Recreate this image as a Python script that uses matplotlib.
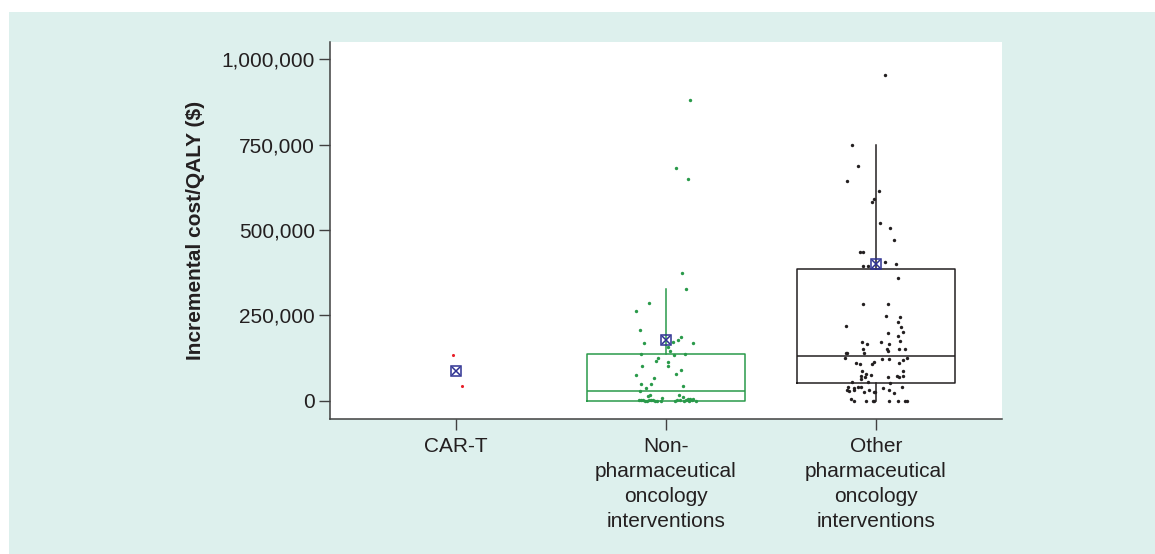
import matplotlib.pyplot as plt
from matplotlib.patches import Rectangle

# categories and positions
categories = ["CAR-T", "Non-\npharmaceutical\noncology\ninterventions",
              "Other\npharmaceutical\noncology\ninterventions"]
yticks = [0, 250000, 500000, 750000, 1000000]
ytick_labels = ["0", "250,000", "500,000", "750,000", "1,000,000"]

# CAR-T points (jitter offset, ICER)
cart_dx = [-0.013, 0.030]
cart_y = [134000, 42000]
cart_mean = 88000

# Non-pharmaceutical points
nonpharm_dx = [0.114, 0.048, 0.105, 0.076, 0.094, -0.082, -0.143, -0.122, -0.105, 0.073,
               0.059, 0.033, 0.129, 0.020, 0.011, -0.120, 0.089, 0.038, -0.038, -0.049,
               0.008, 0.008, -0.113, 0.073, 0.049, -0.144, -0.059, -0.119, -0.070, 0.081,
               -0.095, -0.125, 0.063, 0.081, -0.087, -0.078, -0.020, 0.103, 0.127, 0.114,
               -0.129, -0.119, -0.110, -0.100, -0.090, -0.081, -0.071, -0.062, -0.052, -0.043,
               -0.024, 0.043, 0.067, 0.086, 0.095, 0.110, 0.124, 0.143, 0.052]
nonpharm_y = [881000, 681000, 649000, 373000, 328000, 287000, 264000, 208000, 170000, 187000,
              178000, 172000, 170000, 146000, 158000, 137000, 137000, 134000, 126000, 117000,
              114000, 102000, 102000, 90000, 79000, 76000, 67000, 49000, 49000, 43000,
              37000, 28500, 17000, 11000, 14000, 17000, 8000, 6000, 6000, 4000,
              2000, 2000, 1000, 0, 0, 1000, 2000, 1000, 0, 0,
              0, 0, 2000, 0, 1000, 0, 1000, 0, 1000]
nonpharm_box = dict(q1=0, med=29000, q3=137000, whislo=0, whishi=326000, mean=178500)

# Other pharmaceutical points
other_dx = [0.043, -0.114, -0.086, -0.138, 0.013, -0.008, -0.019, 0.018, 0.068, 0.087,
            -0.076, -0.063, -0.063, -0.038, 0.044, 0.097, 0.106, -0.062, 0.057, 0.049,
            0.114, -0.144, 0.105, 0.118, 0.130, 0.056, 0.105, -0.068, -0.044, 0.024,
            0.063, 0.113, -0.062, 0.052, 0.057, 0.108, 0.138, -0.138, -0.143, -0.056,
            -0.148, 0.030, 0.063, 0.111, 0.130, 0.148, -0.097, -0.078, -0.019, -0.010,
            -0.065, -0.046, -0.024, -0.073, -0.052, -0.071, 0.130, 0.100, 0.111, 0.130,
            0.059, -0.113, -0.037, 0.067, -0.133, -0.106, -0.086, -0.070, -0.138, -0.129,
            -0.105, -0.056, -0.035, -0.011, -0.003, 0.035, 0.062, 0.086, 0.124, -0.121,
            -0.103, -0.046, -0.014, -0.008, 0.063, 0.105, 0.140, 0.148]
other_y = [955000, 749000, 687000, 643000, 614000, 590000, 581000, 520000, 505000, 470000,
           437000, 437000, 396000, 396000, 405000, 399000, 358000, 284000, 284000, 249000,
           246000, 220000, 231000, 217000, 202000, 199000, 190000, 173000, 167000, 173000,
           167000, 176000, 152000, 152000, 146000, 152000, 152000, 140000, 140000, 140000,
           126000, 123000, 123000, 111000, 120000, 125000, 111000, 108000, 108000, 114000,
           87000, 78500, 75000, 72000, 70000, 64000, 87000, 72000, 69000, 72000,
           69000, 55000, 55000, 52000, 40000, 37000, 40000, 40000, 31000, 28000,
           31000, 25000, 31000, 25000, 25000, 37000, 31000, 22000, 40000, 4000,
           0, 0, 0, 0, 0, 0, 0, 0]
other_box = dict(q1=51000, med=132000, q3=387000, whislo=0, whishi=748000, mean=401000)

text_color = "#231f20"
green = "#2a9a4a"
mean_color = "#2e3192"

plt.rcParams["font.family"] = ["Liberation Sans", "DejaVu Sans"]

fig = plt.figure(figsize=(11.55, 5.54), dpi=100)
fig.patches.append(Rectangle((9 / 1155, 0), 1 - 9 / 1155, 542 / 554,
                             transform=fig.transFigure, facecolor="#ddf0ed",
                             edgecolor="none", zorder=-10))
ax = fig.add_axes([330 / 1155, 1 - 418.7 / 554, 672 / 1155, 376.7 / 554])
ax.set_facecolor("white")

# boxes
for pos, stats, col in [(2, nonpharm_box, green), (3, other_box, text_color)]:
    st = dict(stats)
    st.pop("mean")
    st["fliers"] = []
    ax.bxp([st], positions=[pos], widths=0.75, showcaps=False, showfliers=False,
           boxprops=dict(color=col, lw=1.1), whiskerprops=dict(color=col, lw=1.1),
           medianprops=dict(color=col, lw=1.1), manage_ticks=False)

# jittered points
ax.scatter([1 + d for d in cart_dx], cart_y, s=5, color="#e8202a", zorder=3, lw=0)
ax.scatter([2 + d for d in nonpharm_dx], nonpharm_y, s=6, color=green, zorder=3, lw=0)
ax.scatter([3 + d for d in other_dx], other_y, s=6, color=text_color, zorder=3, lw=0)

# means
means = [cart_mean, nonpharm_box["mean"], other_box["mean"]]
for pos, m in zip([1, 2, 3], means):
    ax.plot(pos, m, marker="s", ms=7, mfc="none", mec=mean_color, mew=1.1, zorder=4)
    ax.plot(pos, m, marker="x", ms=6, mec=mean_color, mew=1.1, zorder=4)

ax.set_xlim(0.4, 3.6)
ax.set_ylim(-52700, 1050700)
ax.set_xticks([1, 2, 3])
ax.set_xticklabels(categories, linespacing=1.4)
ax.set_yticks(yticks)
ax.set_yticklabels(ytick_labels)
ax.tick_params(axis="both", length=8, width=1, color="#404040",
               labelsize=15, labelcolor=text_color)
ax.tick_params(axis="x", pad=5)
ax.tick_params(axis="y", pad=3)
ax.set_ylabel("Incremental cost/QALY ($)", fontsize=15, fontweight="bold",
              color=text_color, labelpad=12)

for side in ["top", "right"]:
    ax.spines[side].set_visible(False)
for side in ["left", "bottom"]:
    ax.spines[side].set_color("#404040")
    ax.spines[side].set_linewidth(1.1)

fig.savefig("out.png", dpi=100)
